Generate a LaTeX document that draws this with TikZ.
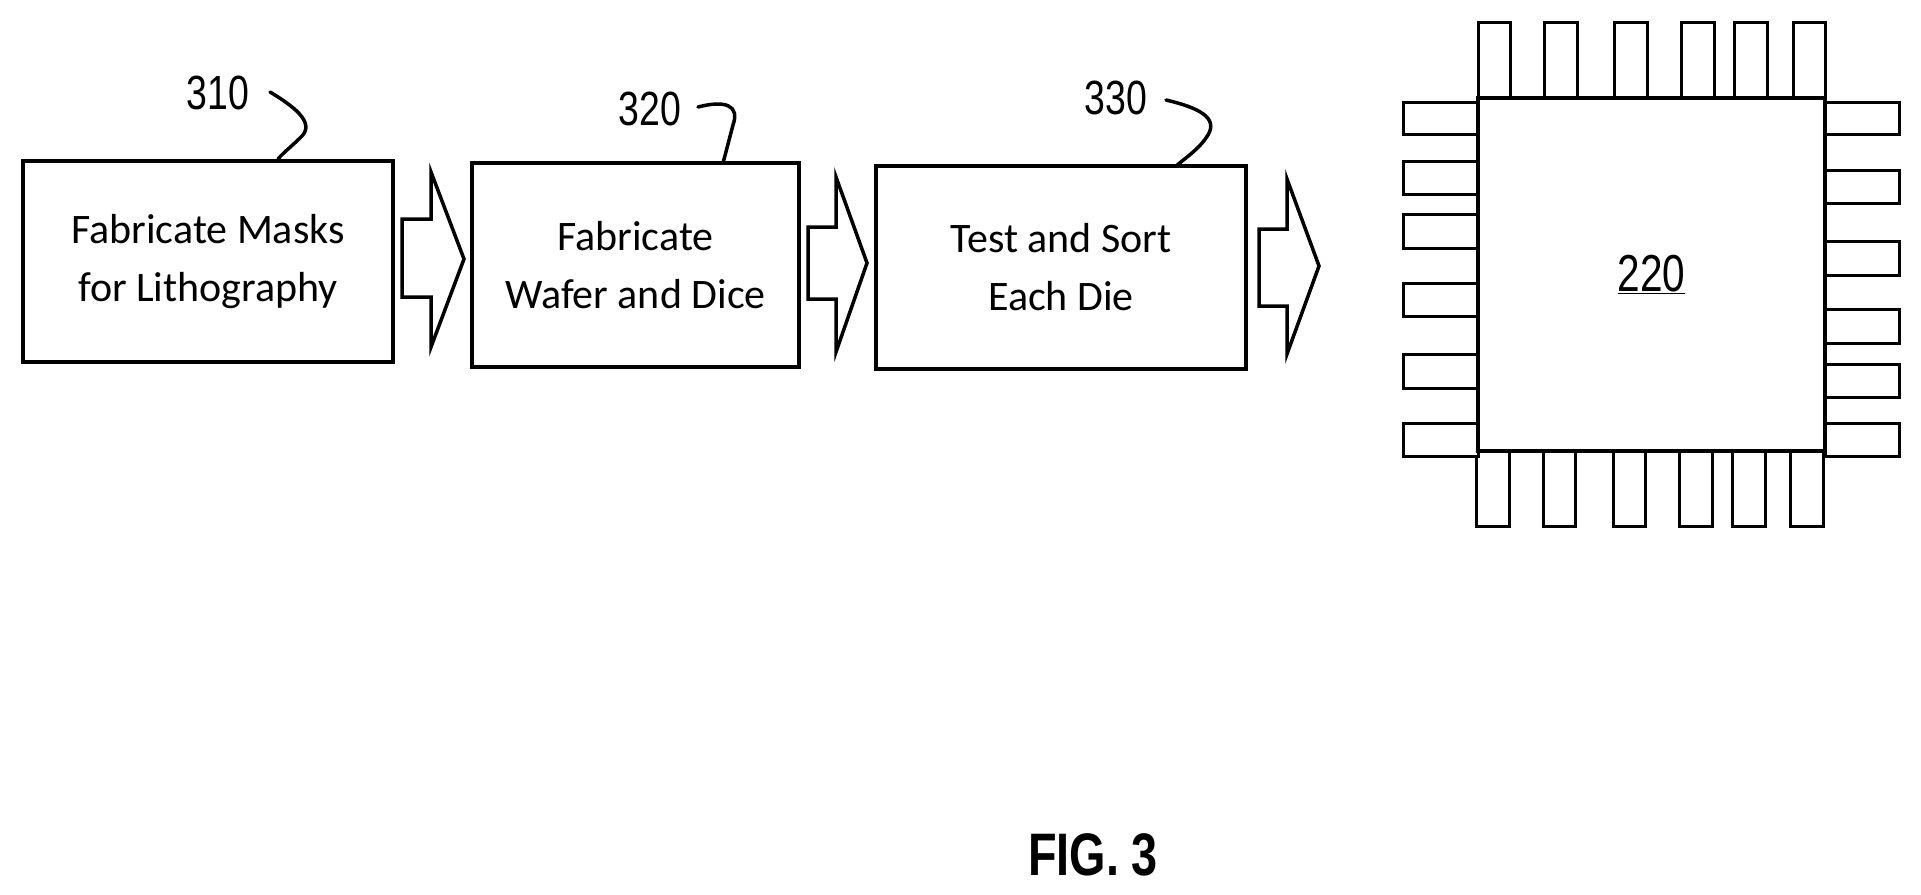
\documentclass[tikz,border=0pt]{standalone}
\usepackage{fontspec}
\setmainfont{Carlito}
\newfontfamily\narrowfont[FakeStretch=0.78]{Liberation Sans}
\newfontfamily\narrowbold[FakeStretch=0.78]{Liberation Sans Bold}
\begin{document}
\begin{tikzpicture}[x=1pt,y=-1pt,
  procbox/.style={draw,line width=4pt,align=center,font=\fontsize{42}{58}\selectfont,inner sep=0pt},
  blk/.style={draw,line width=3.5pt,line join=miter},
  ref/.style={font=\narrowfont\fontsize{48}{50}\selectfont,inner sep=0pt},
  lead/.style={line width=3.5pt,line cap=round},
  pin/.style={draw,line width=3pt,fill=white}]
\useasboundingbox (0,0) rectangle (1921,894);
% boxes
\node[procbox,minimum width=370pt,minimum height=201pt] (b1) at (208,261.5) {Fabricate Masks\\for Lithography};
\node[procbox,minimum width=327pt,minimum height=204pt] (b2) at (635.5,265) {Fabricate\\Wafer and Dice};
\node[procbox,minimum width=370pt,minimum height=203pt] (b3) at (1061,267.5) {Test and Sort\\Each Die};
% block arrows
\draw[blk] (402,219) -- (431,219) -- (431,172) -- (464,259) -- (431,347) -- (431,297) -- (402,297) -- cycle;
\draw[blk] (808,227) -- (836,227) -- (836,177) -- (867,263) -- (836,352) -- (836,299) -- (808,299) -- cycle;
\draw[blk] (1259,229) -- (1287,229) -- (1287,179) -- (1319,266) -- (1287,354) -- (1287,306) -- (1259,306) -- cycle;
% reference labels
\node[ref] (l1) at (218,93) {310};
\node[ref] (l2) at (650,109) {320};
\node[ref] (l3) at (1116,98) {330};
\coordinate (c1) at (278,159);
\coordinate (c2) at (723,163);
\coordinate (c3) at (1176,166);
\draw[lead] (270,92) .. controls (300,110) and (315,125) .. (300,138) .. controls (292,146) and (284,152) .. (c1);
\draw[lead] (698,107) .. controls (725,100) and (740,105) .. (733,125) .. controls (729,140) and (726,152) .. (c2);
\draw[lead] (1166,100) .. controls (1200,108) and (1218,118) .. (1208,135) .. controls (1200,148) and (1188,156) .. (c3);
% chip pins
\foreach \a/\b in {1478/1510,1544/1577,1614/1647,1681/1714,1734/1767,1793/1825}
  \draw[pin] (\a,22) rectangle (\b,98);
\foreach \a/\b in {1476/1509,1543/1575,1613/1645,1679/1712,1732/1765,1790/1823}
  \draw[pin] (\a,451) rectangle (\b,526);
\foreach \a/\b in {102/134,161/194,214/248,283/316,354/388,423/456}
  \draw[pin] (1403,\a) rectangle (1478,\b);
\foreach \a/\b in {102/134,170/203,241/275,309/343,364/397,423/456}
  \draw[pin] (1825,\a) rectangle (1899,\b);
\node[draw,line width=3.5pt,fill=white,minimum width=347pt,minimum height=353pt,inner sep=0pt] (chip) at (1651.5,274.5) {};
\node[font=\narrowfont\fontsize{52}{54}\selectfont,inner sep=0pt] (c220) at (chip.center) {\underline{220}};
% caption
\node[font=\narrowbold\fontsize{60}{62}\selectfont,inner sep=0pt] (fig) at (1093,855) {FIG. 3};
\end{tikzpicture}
\end{document}
